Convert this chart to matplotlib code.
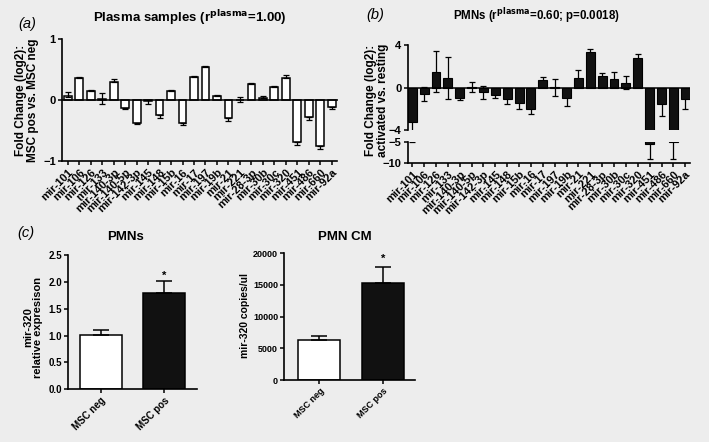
import numpy as np
import matplotlib
matplotlib.use("Agg")
import matplotlib.pyplot as plt

plt.rcParams['font.family'] = ['Liberation Sans', 'DejaVu Sans']
plt.rcParams['font.weight'] = 'bold'

mirs = ["mir-101", "mir-106", "mir-126", "mir-133", "mir-140-3p", "mir-140-5p",
        "mir-142-3p", "mir-145", "mir-148", "mir-15b", "mir-16", "mir-17",
        "mir-197", "mir-19b", "mir-21", "mir-221", "mir-28-3p", "mir-30b",
        "mir-30c", "mir-320", "mir-451", "mir-486", "mir-660", "mir-92a"]

# Panel a: plasma samples
plasma_fc = [0.07, 0.37, 0.15, 0.02, 0.30, -0.13, -0.37, -0.02, -0.25, 0.15, -0.38, 0.38,
             0.54, 0.07, -0.30, 0.01, 0.27, 0.04, 0.21, 0.37, -0.68, -0.27, -0.76, -0.11]
plasma_err_lo = [0.02, 0.0, 0.0, 0.08, 0.0, 0.02, 0.03, 0.05, 0.04, 0.0, 0.03, 0.0,
                 0.0, 0.0, 0.04, 0.04, 0.0, 0.0, 0.0, 0.0, 0.05, 0.05, 0.04, 0.03]
plasma_err_hi = [0.06, 0.01, 0.02, 0.10, 0.05, 0.0, 0.0, 0.03, 0.0, 0.01, 0.0, 0.01,
                 0.02, 0.01, 0.0, 0.04, 0.02, 0.02, 0.02, 0.04, 0.0, 0.0, 0.0, 0.0]

# Panel b: PMNs
pmn_fc = [-3.2, -0.6, 1.5, 0.9, -1.0, 0.05, -0.45, -0.7, -1.1, -1.47, -2.0, 0.72,
          0.05, -1.0, 0.9, 3.37, 1.1, 0.85, 0.47, 2.75, -5.6, -1.5, -5.0, -1.05]
pmn_err = [1.85, 0.65, 1.95, 1.95, 0.15, 0.45, 0.65, 0.3, 0.45, 0.55, 0.5, 0.25,
           0.8, 0.75, 0.75, 0.3, 0.25, 0.65, 0.6, 0.4, 3.4, 1.2, 4.0, 0.95]

# Panel c
groups = ["MSC neg", "MSC pos"]
pmn_rel = [1.02, 1.80]
pmn_rel_err = [0.08, 0.22]
cm_copies = [6300, 15300]
cm_copies_err = [700, 2500]

BG = '#ededed'
W, H = 709, 442
fig = plt.figure(figsize=(W / 100, H / 100), dpi=100, facecolor=BG)


def frac(x0, y0, x1, y1):
    # pixel box (left, top, right, bottom) -> figure fraction
    return [x0 / W, 1 - y1 / H, (x1 - x0) / W, (y1 - y0) / H]


def style(ax, ls=7.5):
    ax.set_facecolor('none')
    for s in ['top', 'right']:
        ax.spines[s].set_visible(False)
    for s in ['left', 'bottom']:
        ax.spines[s].set_linewidth(1.2)
    ax.tick_params(direction='out', length=3, width=1.1, labelsize=ls, pad=1.5)
    for lab in ax.get_yticklabels():
        lab.set_fontweight('bold')


x = np.arange(len(mirs))
XFS = 5.2

# ---------- Panel a ----------
axa = fig.add_axes(frac(62, 39.3, 337.5, 161))
axa.bar(x, plasma_fc, width=0.68, color='white', edgecolor='black', linewidth=1.1, zorder=2)
axa.errorbar(x, plasma_fc, yerr=[plasma_err_lo, plasma_err_hi], fmt='none',
             ecolor='black', elinewidth=0.9, capsize=2, capthick=0.9, zorder=3)
axa.axhline(0, color='black', lw=1.1, zorder=4)
axa.set_xlim(-0.5, 23.5)
axa.set_ylim(-1, 1)
axa.set_yticks([-1, 0, 1])
axa.set_xticks(x)
axa.set_xticklabels(mirs, rotation=45, ha='right', rotation_mode='anchor',
                    fontsize=XFS, fontweight='bold')
style(axa, 8)
fig.text(27 / W, 1 - 100 / H, "Fold Change (log2):\nMSC pos vs. MSC neg", rotation=90,
         ha='center', va='center', fontsize=8.5, fontweight='bold', linespacing=1.05)
fig.text(190 / W, 1 - 18 / H, r"Plasma samples (r$^{\mathbf{plasma}}$=1.00)", ha='center',
         va='center', fontsize=9.5, fontweight='bold')
fig.text(18 / W, 1 - 24 / H, "(a)", ha='left', va='center', fontsize=10.5,
         fontstyle='italic', fontweight='normal')

# ---------- Panel b ----------
bl, br = 407.5, 690
xl = (-0.4, 23.4)
axb = fig.add_axes(frac(bl, 45, br, 130.3))
axb2 = fig.add_axes(frac(bl, 141.7, br, 162.7))
for ax in (axb, axb2):
    ax.bar(x, pmn_fc, width=0.75, color='#111111', edgecolor='black', linewidth=0.8, zorder=2)
    ax.errorbar(x, pmn_fc, yerr=pmn_err, fmt='none', ecolor='black',
                elinewidth=0.9, capsize=2, capthick=0.9, zorder=1)
    ax.set_xlim(*xl)
axb.axhline(0, color='black', lw=1.1, zorder=4)
axb.set_ylim(-4, 4)
axb.set_yticks([-4, 0, 4])
axb.tick_params(axis='x', bottom=False, labelbottom=False)
style(axb, 8)
axb.spines['bottom'].set_visible(False)
axb2.set_ylim(-10, -5)
axb2.set_yticks([-10, -5])
axb2.set_xticks(x)
axb2.set_xticklabels(mirs, rotation=45, ha='right', rotation_mode='anchor',
                     fontsize=XFS, fontweight='bold')
style(axb2, 8)
fig.text(377 / W, 1 - 100 / H, "Fold Change (log2):\nactivated vs. resting", rotation=90,
         ha='center', va='center', fontsize=8.5, fontweight='bold', linespacing=1.05)
fig.text(536 / W, 1 - 16 / H, r"PMNs (r$^{\mathbf{plasma}}$=0.60; p=0.0018)", ha='center',
         va='center', fontsize=8.3, fontweight='bold')
fig.text(366 / W, 1 - 15 / H, "(b)", ha='left', va='center', fontsize=10.5,
         fontstyle='italic', fontweight='normal')

# ---------- Panel c ----------
xc = np.arange(2)
axc1 = fig.add_axes(frac(68.3, 255, 196.7, 389.3))
axc1.bar(xc, pmn_rel, width=0.68, color=['white', '#111111'], edgecolor='black',
         linewidth=1.1, zorder=2)
axc1.errorbar(xc, pmn_rel, yerr=[[0, 0], pmn_rel_err], fmt='none', ecolor='black',
              elinewidth=1.1, capsize=6, capthick=1.1, zorder=3)
axc1.set_xlim(-0.52, 1.52)
axc1.set_ylim(0, 2.5)
axc1.set_yticks([0, 0.5, 1.0, 1.5, 2.0, 2.5])
axc1.set_yticklabels(["0.0", "0.5", "1.0", "1.5", "2.0", "2.5"])
axc1.set_xticks(xc)
axc1.set_xticklabels(groups, rotation=45, ha='right', rotation_mode='anchor',
                     fontsize=7, fontweight='bold')
style(axc1, 7)
axc1.text(1, pmn_rel[1] + pmn_rel_err[1] + 0.1, "*", ha='center', va='center',
          fontsize=8, fontweight='bold')
fig.text(33 / W, 1 - 327 / H, "mir-320\nrelative expresison", rotation=90,
         ha='center', va='center', fontsize=8, fontweight='bold', linespacing=1.05)
fig.text(125 / W, 1 - 237 / H, "PMNs", ha='center', va='center', fontsize=9.5,
         fontweight='bold')
fig.text(17 / W, 1 - 233 / H, "(c)", ha='left', va='center', fontsize=10.5,
         fontstyle='italic', fontweight='normal')

axc2 = fig.add_axes(frac(284.3, 253.3, 415, 380))
axc2.bar(xc, cm_copies, width=0.66, color=['white', '#111111'], edgecolor='black',
         linewidth=1.1, zorder=2)
axc2.errorbar(xc, cm_copies, yerr=[[0, 0], cm_copies_err], fmt='none', ecolor='black',
              elinewidth=1.1, capsize=6, capthick=1.1, zorder=3)
axc2.set_xlim(-0.55, 1.5)
axc2.set_ylim(0, 20000)
axc2.set_yticks([0, 5000, 10000, 15000, 20000])
axc2.set_xticks(xc)
axc2.set_xticklabels(groups, rotation=45, ha='right', rotation_mode='anchor',
                     fontsize=7, fontweight='bold')
style(axc2, 6.5)
axc2.text(1, cm_copies[1] + cm_copies_err[1] + 1300, "*", ha='center', va='center',
          fontsize=8, fontweight='bold')
fig.text(245 / W, 1 - 315 / H, "mir-320 copies/ul", rotation=90,
         ha='center', va='center', fontsize=7.5, fontweight='bold')
fig.text(345 / W, 1 - 237 / H, "PMN CM", ha='center', va='center', fontsize=9.5,
         fontweight='bold')

fig.savefig("out.png", dpi=100, facecolor=BG)
